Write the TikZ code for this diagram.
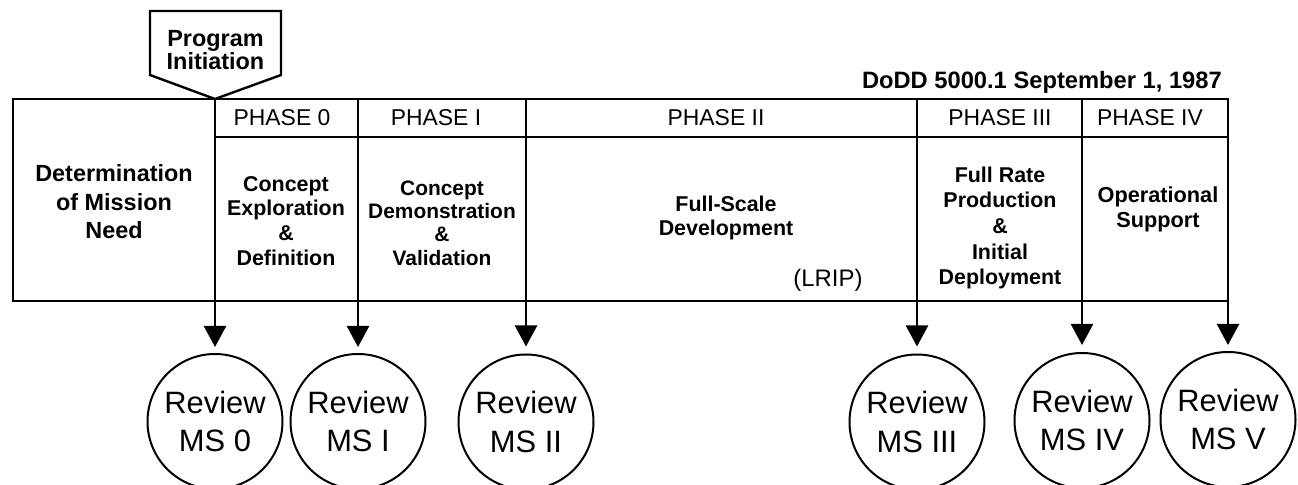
\documentclass[tikz,border=0pt]{standalone}
\usepackage{fontspec}
\setmainfont{Liberation Sans}
\usetikzlibrary{arrows.meta}
\usetikzlibrary{positioning}
\tikzset{>={Triangle[length=21bp,width=22bp]}, line join=miter,
  phase/.style={font=\fontsize{23}{27}\selectfont},
  stage/.style={align=center, inner sep=0pt},
  review/.style={draw, circle, minimum size=135bp, inner sep=0pt, align=center, line width=2bp,
    font=\fontsize{31}{39}\selectfont}}

\begin{document}
\begin{tikzpicture}[x=1bp,y=-1bp,line width=2.4bp]
%%
\begin{scope}
  \definecolor{fillcol}{rgb}{1.0,1.0,1.0};
  \fill [fillcol] (0,0) rectangle (1298,485);
\end{scope}
\useasboundingbox (0,0) rectangle (1298,485);
  \draw (150,11) -- (281,11) -- (281,75) -- (215,99) -- (150,75) -- cycle;
  \node (p_init) at (215.5,50) [stage,font=\bfseries\fontsize{23.5}{22.5}\selectfont] {Program\\Initiation};
  \node (dodd) at (1223,89) [anchor=base east,inner sep=0pt,font=\bfseries\fontsize{23.8}{26}\selectfont] {DoDD 5000.1 September 1, 1987};
  \draw (13,99) rectangle (1228,301);
  \draw (215,137) -- (1228,137);
  \draw (215,99) -- (215,301);
  \draw (358,99) -- (358,301);
  \draw (526,99) -- (526,301);
  \draw (917,99) -- (917,301);
  \draw (1082,99) -- (1082,301);
%
  \node (ph_0) at (282,118) [phase] {PHASE 0};
  \node (ph_1) at (436,118) [phase] {PHASE I};
  \node (ph_2) at (716,118) [phase] {PHASE II};
  \node (ph_3) at (1000,118) [phase] {PHASE III};
  \node (ph_4) at (1150,118) [phase] {PHASE IV};
%
  \node (s_need) at (114,202) [stage,font=\bfseries\fontsize{23.5}{28.5}\selectfont] {Determination\\of Mission\\Need};
  \node (s_0) at (286,221) [stage,font=\bfseries\fontsize{21.5}{25}\selectfont] {Concept\\Exploration\\\&\\Definition};
  \node (s_1) at (442,223) [stage,font=\bfseries\fontsize{21}{23.3}\selectfont] {Concept\\Demonstration\\\&\\Validation};
  \node (s_2) at (726,218) [stage,font=\bfseries\fontsize{21.5}{25}\selectfont] {Full-Scale\\Development};
  \node (lrip) at (828,280) [font=\fontsize{24}{28}\selectfont] {(LRIP)};
  \node (s_3) at (1000,228) [stage,font=\bfseries\fontsize{21.5}{25.7}\selectfont] {Full Rate\\Production\\\&\\Initial\\Deployment};
  \node (s_4) at (1158,209) [stage,font=\bfseries\fontsize{21.8}{25}\selectfont] {Operational\\Support};
%
  \node (ms_0) at (215,421.5) [review] {Review\\MS 0};
  \node (ms_1) at (358,421.5) [review] {Review\\MS I};
  \node (ms_2) at (526,422) [review] {Review\\MS II};
  \node (ms_3) at (917,422) [review] {Review\\MS III};
  \node (ms_4) at (1082,420.5) [review] {Review\\MS IV};
  \node (ms_5) at (1228,419.5) [review] {Review\\MS V};
  \coordinate (b_0) at (215,300);
  \coordinate (b_1) at (358,300);
  \coordinate (b_2) at (526,300);
  \coordinate (b_3) at (917,300);
  \coordinate (b_4) at (1082,300);
  \coordinate (b_5) at (1228,300);
  \draw [->,shorten >=6bp] (b_0) -- (ms_0);
  \draw [->,shorten >=6bp] (b_1) -- (ms_1);
  \draw [->,shorten >=7bp] (b_2) -- (ms_2);
  \draw [->,shorten >=7bp] (b_3) -- (ms_3);
  \draw [->,shorten >=7bp] (b_4) -- (ms_4);
  \draw [->,shorten >=6bp] (b_5) -- (ms_5);
%
\end{tikzpicture}
\end{document}
